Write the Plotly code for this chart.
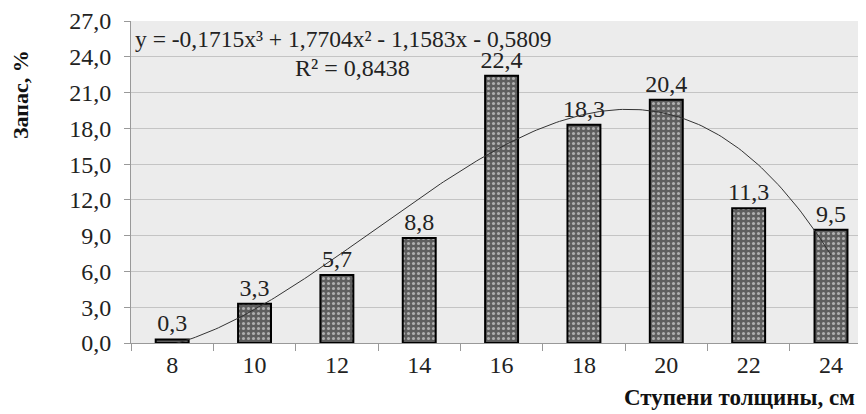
import plotly.graph_objects as go
import numpy as np

categories = ["8", "10", "12", "14", "16", "18", "20", "22", "24"]
values = [0.3, 3.3, 5.7, 8.8, 22.4, 18.3, 20.4, 11.3, 9.5]
labels = ["0,3", "3,3", "5,7", "8,8", "22,4", "18,3", "20,4", "11,3", "9,5"]
y_ticks = [0, 3, 6, 9, 12, 15, 18, 21, 24, 27]
y_tick_labels = ["0,0", "3,0", "6,0", "9,0", "12,0", "15,0", "18,0", "21,0", "24,0", "27,0"]
# trend coefficients as printed on the chart (x = category index 1..9)
coef = [-0.1715, 1.7704, -1.1583, -0.5809]

FONT = "Liberation Serif"
idx = list(range(len(categories)))

# page has an 8px body margin; figure sized so that plot area sits at x 131..866, y 21..343 in the window
OFF = 8
W, H = 866 - OFF, 414 - OFF
L, T, B = 131 - OFF, 21 - OFF, 414 - 343
PW, PH = 866 - 131, 343 - 21

fig = go.Figure()
fig.add_bar(
    x=idx, y=values, width=0.4,
    marker=dict(color="#5e5e5e", line=dict(color="black", width=2),
                pattern=dict(shape=".", fgcolor="white", bgcolor="#5e5e5e", size=5, solidity=0.3)),
    text=labels, textposition="outside", cliponaxis=False, constraintext="none",
    textfont=dict(family=FONT, size=24, color="#222"),
    showlegend=False,
)

tx = np.linspace(1, len(categories), 200)
ty = np.polyval(coef, tx)
fig.add_scatter(x=tx - 1, y=ty, mode="lines", line=dict(color="#333", width=1), showlegend=False)

def px_x(x):
    return (x - 131) / PW

def px_y(y):
    return (343 - y) / PH

fig.add_annotation(x=px_x(133), y=px_y(39), xref="paper", yref="paper", xanchor="left", yanchor="middle",
                   text="y = -0,1715x³ + 1,7704x² - 1,1583x - 0,5809", showarrow=False,
                   font=dict(family=FONT, size=23.5, color="#222"))
fig.add_annotation(x=px_x(352), y=px_y(68), xref="paper", yref="paper", xanchor="center", yanchor="middle",
                   showarrow=False, text="R² = 0,8438", font=dict(family=FONT, size=24, color="#222"))
fig.add_annotation(x=px_x(20), y=px_y(95), xref="paper", yref="paper", textangle=-90,
                   xanchor="center", yanchor="middle",
                   text="<b>Запас, %</b>", showarrow=False, font=dict(family=FONT, size=22, color="#111"))
fig.add_annotation(x=px_x(622), y=px_y(397), xref="paper", yref="paper", xanchor="left", yanchor="middle",
                   text="<b>Ступени толщины, см</b>", showarrow=False, font=dict(family=FONT, size=23, color="#111"))

fig.update_layout(
    width=W, height=H,
    margin=dict(l=L, r=0, t=T, b=B, pad=0),
    plot_bgcolor="#ececec", paper_bgcolor="white",
    font=dict(family=FONT, size=24, color="#222"),
)

fig.update_xaxes(
    range=[-0.5, 8.425], tickvals=idx, ticktext=categories, ticks="",
    showgrid=False, zeroline=False, showline=True, linecolor="#999", linewidth=1,
    minor=dict(tickvals=[i - 0.5 for i in range(len(categories) + 1)], ticks="outside",
               ticklen=7, tickcolor="#999", showgrid=False),
    tickfont=dict(family=FONT, size=24, color="#222"),
)
# invisible spacer after each label pushes the labels away from the axis, as in the reference
pad = "<span style='font-size:16px;color:rgba(0,0,0,0)'>0</span>"
fig.update_yaxes(
    range=[0, 27], tickvals=y_ticks, ticktext=[t + pad for t in y_tick_labels],
    ticks="outside", ticklen=6,
    tickcolor="#999", showline=True, linecolor="#999", linewidth=1,
    gridcolor="#c4c4c4", gridwidth=1, zeroline=False,
    tickfont=dict(family=FONT, size=24, color="#222"),
)

fig.write_html("out.html")
